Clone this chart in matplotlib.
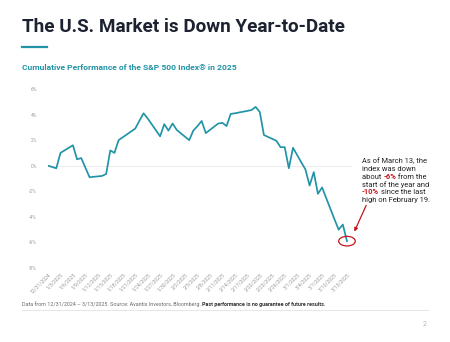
import pandas as pd
import matplotlib
matplotlib.use("Agg")
import matplotlib.pyplot as plt
import matplotlib.dates as mdates
from matplotlib.patches import Ellipse
from matplotlib.lines import Line2D

# dados (desempenho acumulado, %)
dates = ['2024-12-31', '2025-01-02', '2025-01-03', '2025-01-06', '2025-01-07', '2025-01-08',
         '2025-01-10', '2025-01-13', '2025-01-14', '2025-01-15', '2025-01-16', '2025-01-17',
         '2025-01-21', '2025-01-22', '2025-01-23', '2025-01-24', '2025-01-27', '2025-01-28',
         '2025-01-29', '2025-01-30', '2025-01-31', '2025-02-03', '2025-02-04', '2025-02-05',
         '2025-02-06', '2025-02-07', '2025-02-10', '2025-02-11', '2025-02-12', '2025-02-13',
         '2025-02-14', '2025-02-18', '2025-02-19', '2025-02-20', '2025-02-21', '2025-02-24',
         '2025-02-25', '2025-02-26', '2025-02-27', '2025-02-28', '2025-03-03', '2025-03-04',
         '2025-03-05', '2025-03-06', '2025-03-07', '2025-03-10', '2025-03-11', '2025-03-12',
         '2025-03-13']
values = [0.0, -0.2, 1.0, 1.6, 0.5, 0.6, -0.9, -0.8, -0.65, 1.2,
          1.0, 2.0, 2.9, 3.5, 4.1, 3.7, 2.3, 3.25, 2.75, 3.3,
          2.8, 2.0, 2.75, 3.1, 3.5, 2.55, 3.3, 3.35, 3.1, 4.05,
          4.1, 4.35, 4.6, 4.2, 2.4, 1.95, 1.45, 1.45, -0.2, 1.4,
          -0.3, -1.55, -0.5, -2.2, -1.7, -4.2, -5.0, -4.6, -5.9]

x_tick_labels = ['12/31/2024', '1/3/2025', '1/6/2025', '1/9/2025', '1/12/2025', '1/15/2025',
                 '1/18/2025', '1/21/2025', '1/24/2025', '1/27/2025', '1/30/2025', '2/2/2025',
                 '2/5/2025', '2/8/2025', '2/11/2025', '2/14/2025', '2/17/2025', '2/20/2025',
                 '2/23/2025', '2/26/2025', '3/1/2025', '3/4/2025', '3/7/2025', '3/10/2025',
                 '3/13/2025']
y_ticks = [-8, -6, -4, -2, 0, 2, 4, 6]
y_tick_labels = ['-8%', '-6%', '-4%', '-2%', '0%', '2%', '4%', '6%']

df = pd.DataFrame({"Date": pd.to_datetime(dates), "Perf": values})

teal = '#2294a7'
red = '#c4161c'
font = 'Roboto'
plt.rcParams['font.family'] = [font, 'DejaVu Sans']

fig = plt.figure(figsize=(4.5, 3.42), dpi=100)
W, H = 450, 342

# titulo e subtitulo
fig.text(22 / W, 1 - 27 / H, "The U.S. Market is Down Year-to-Date", fontsize=13.6,
         fontweight='bold', color='#1c2230', va='center', ha='left')
fig.add_artist(Line2D([22 / W, 47 / W], [1 - 47 / H, 1 - 47 / H], color=teal, lw=1.6))
fig.text(22 / W, 1 - 68 / H, "Cumulative Performance of the S&P 500 Index® in 2025", fontsize=6.1,
         fontweight='bold', color=teal, va='center', ha='left')

ax = fig.add_axes([48 / W, (H - 268) / H, (352 - 48) / W, (268 - 89) / H])
ax.plot(df['Date'], df['Perf'], color=teal, lw=1.25, zorder=3)
ax.axhline(0, color='#e8e8e8', lw=0.6, zorder=1)

ax.set_ylim(-8, 6)
ax.set_xlim(pd.Timestamp('2024-12-31'), pd.Timestamp('2025-03-14 05:00'))
ax.set_yticks(y_ticks)
ax.set_yticklabels(y_tick_labels)
ax.set_xticks(pd.to_datetime(x_tick_labels, format='%m/%d/%Y'))
ax.set_xticklabels(x_tick_labels, rotation=45, ha='right', va='top', rotation_mode='anchor')
ax.tick_params(axis='y', length=0, pad=8, labelsize=3.6, labelcolor='#9a9a9a')
ax.tick_params(axis='x', length=0, pad=3, labelsize=3.6, labelcolor='#9a9a9a')
for s in ax.spines.values():
    s.set_visible(False)

# destaque no ultimo ponto
last_x = mdates.date2num(df['Date'].iloc[-1])
last_y = df['Perf'].iloc[-1]
ax.add_patch(Ellipse((last_x, last_y), width=4.0, height=0.75, fill=False,
                     edgecolor=red, lw=0.9, clip_on=False, zorder=4))
ax.annotate('', xy=(last_x + 1.5, -5.35), xytext=(last_x + 4.9, -2.9),
            arrowprops=dict(arrowstyle='-|>', color=red, lw=0.9, mutation_scale=5),
            annotation_clip=False)

# texto da anotacao
fs = 5.45
tx = 362 / W
lines_y = [163.5, 171.2, 178.9, 186.6, 194.3, 202]
fig.text(tx, 1 - lines_y[0] / H, "As of March 13, the", fontsize=fs, color='#222222', va='baseline')
fig.text(tx, 1 - lines_y[1] / H, "index was down", fontsize=fs, color='#222222', va='baseline')
t = fig.text(tx, 1 - lines_y[2] / H, "about ", fontsize=fs, color='#222222', va='baseline')
t = ax.annotate("-6%", xy=(1, 0), xycoords=t, va='bottom', fontsize=fs, color=red,
                fontweight='bold', annotation_clip=False)
ax.annotate(" from the", xy=(1, 0), xycoords=t, va='bottom', fontsize=fs, color='#222222',
            annotation_clip=False)
fig.text(tx, 1 - lines_y[3] / H, "start of the year and", fontsize=fs, color='#222222', va='baseline')
t = fig.text(tx, 1 - lines_y[4] / H, "-10%", fontsize=fs, color=red, fontweight='bold', va='baseline')
ax.annotate("since the last", xy=(1, 0), xytext=(1.3, 0), textcoords='offset points',
            xycoords=t, va='bottom', fontsize=fs, color='#222222', annotation_clip=False)
fig.text(tx, 1 - lines_y[5] / H, "high on February 19.", fontsize=fs, color='#222222', va='baseline')

# rodape
t = fig.text(22 / W, 1 - 304 / H, "Data from 12/31/2024 \u2013 3/13/2025. Source: Avantis Investors, Bloomberg. ",
             fontsize=3.9, color='#6b6b6b', va='center')
ax.annotate("Past performance is no guarantee of future results.", xy=(1, 0), xycoords=t,
            va='bottom', fontsize=3.9, color='#333333', fontweight='bold', annotation_clip=False)
fig.add_artist(Line2D([22 / W, 428 / W], [1 - 309.5 / H, 1 - 309.5 / H], color='#e2e2e2', lw=0.6))
fig.text(425 / W, 1 - 325 / H, "2", fontsize=5, color='#b5b5b5', ha='center', va='center')

fig.savefig('out.png', dpi=100)
